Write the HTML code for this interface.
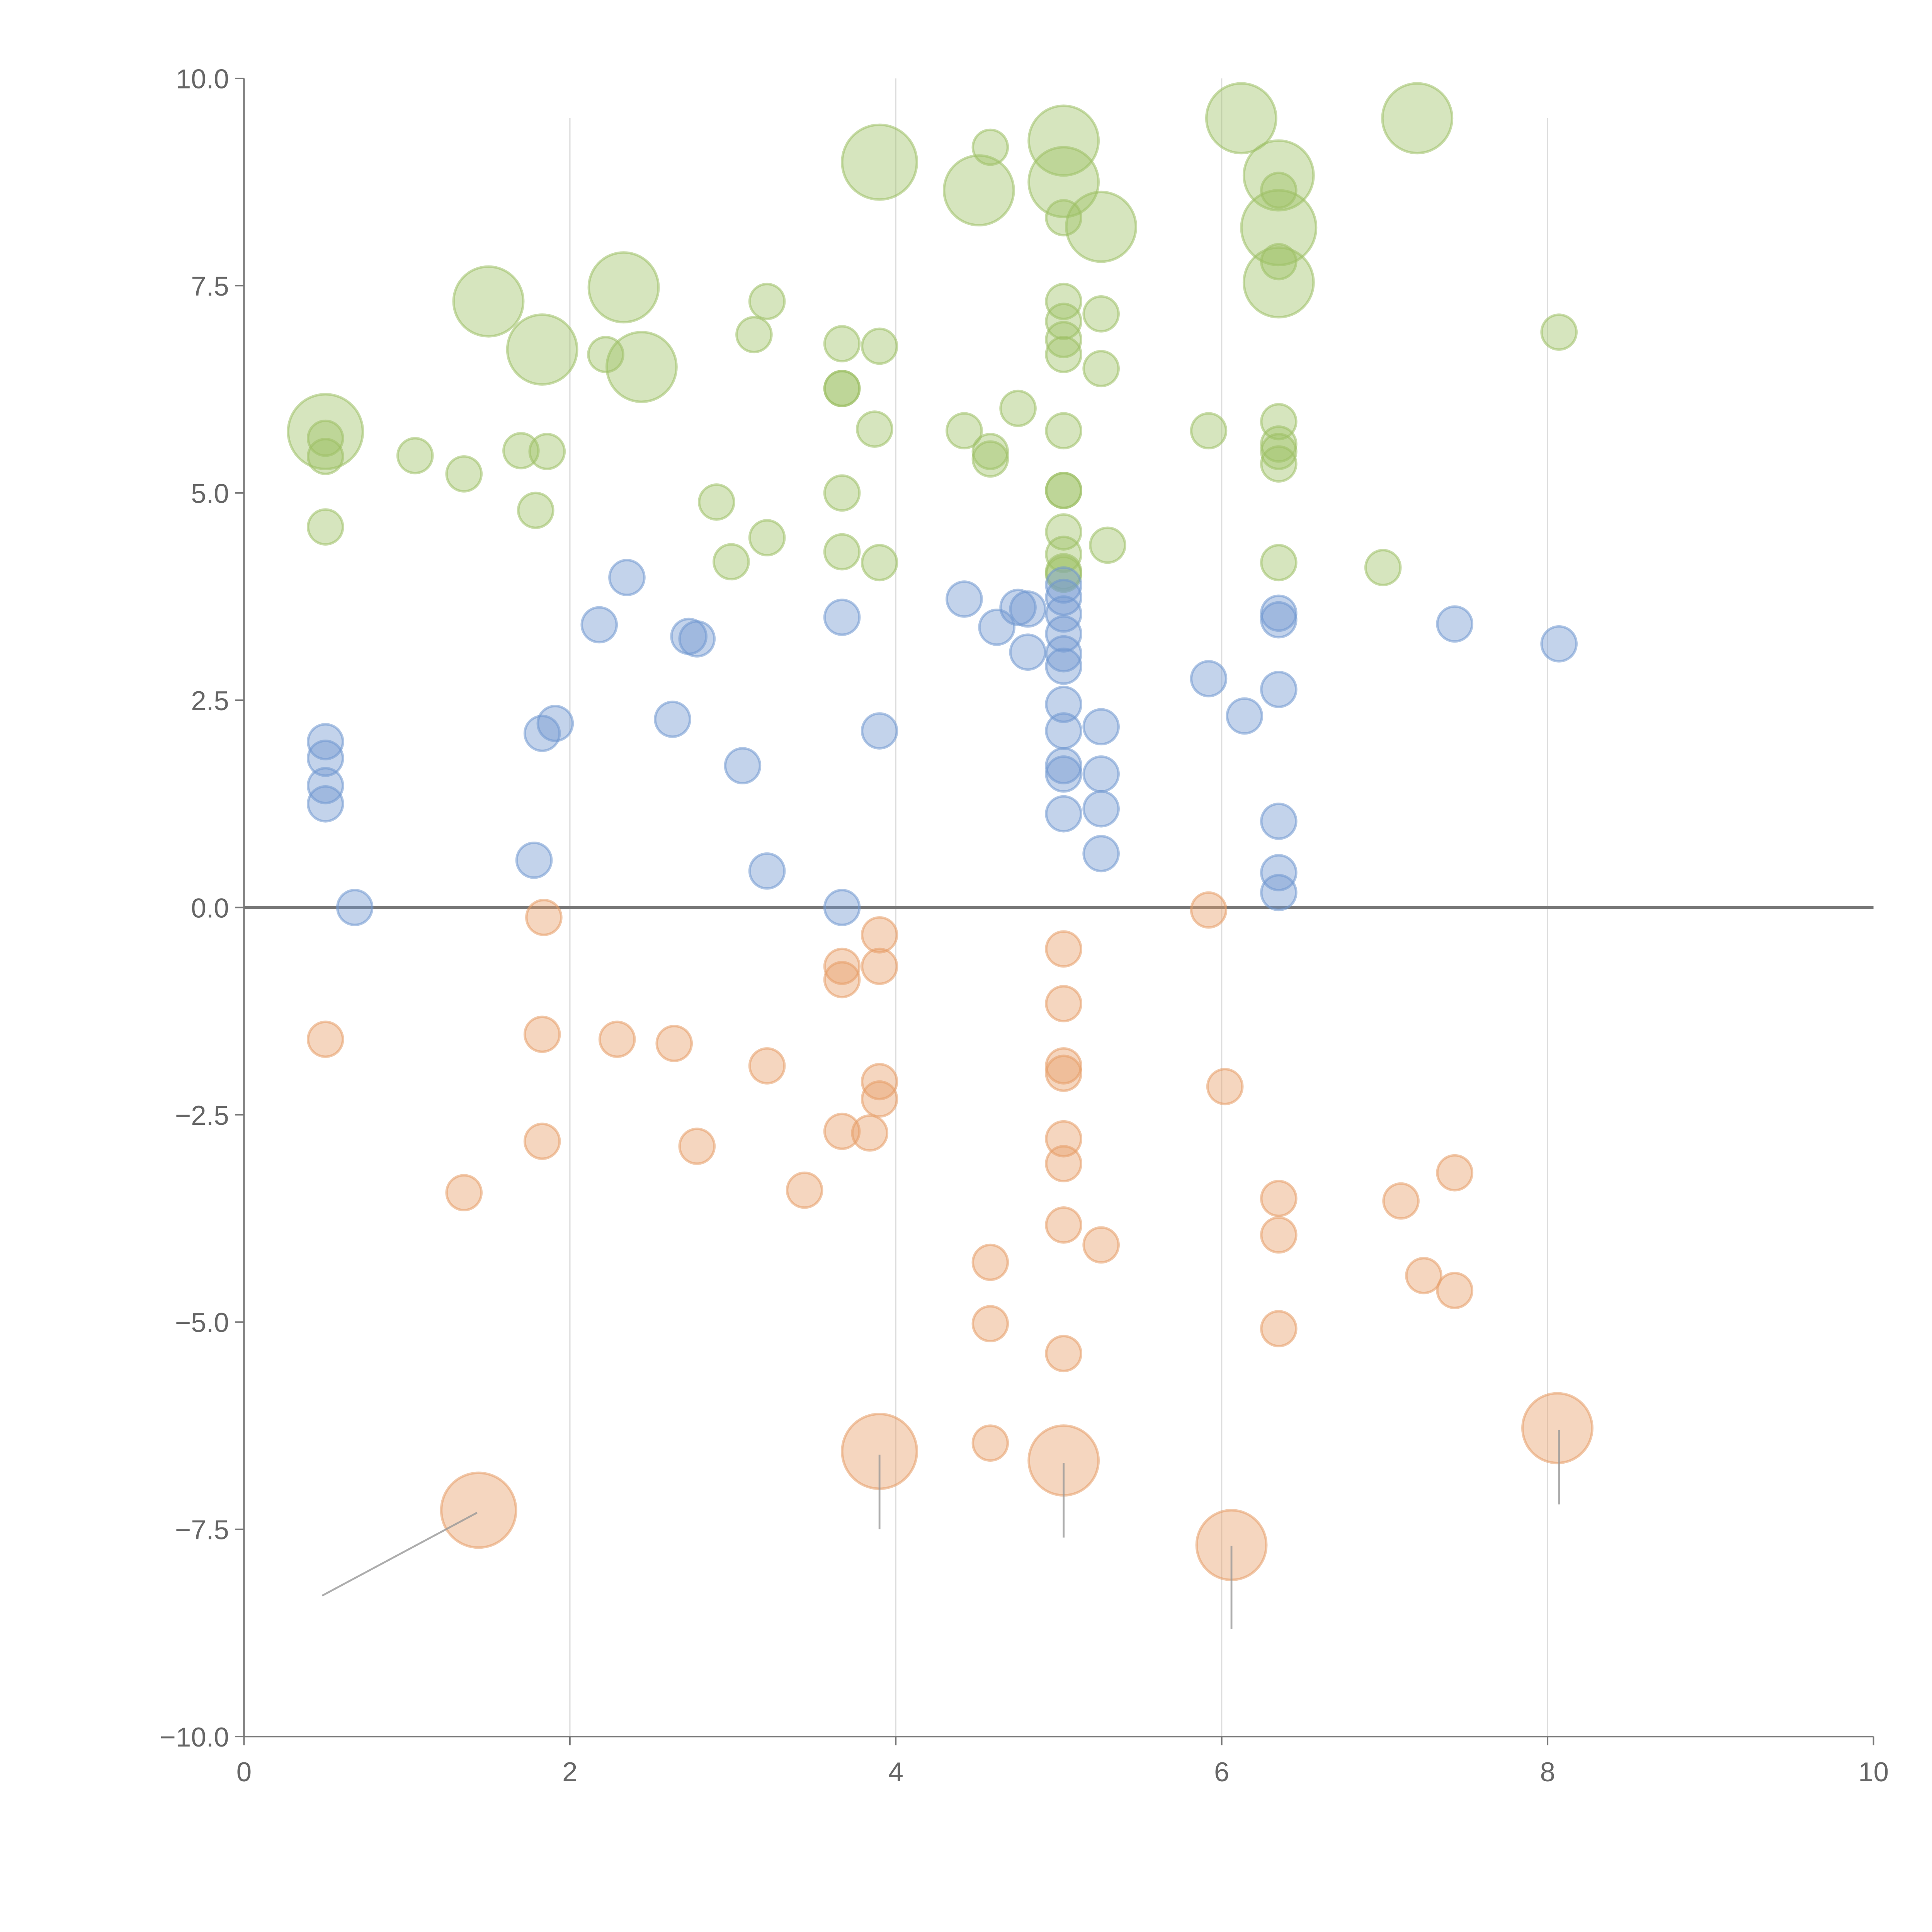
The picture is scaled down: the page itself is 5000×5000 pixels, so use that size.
<!DOCTYPE html>
<html><head><meta charset="utf-8"><style>html,body{margin:0;padding:0;background:#fff}svg{display:block}</style></head>
<body>
<svg id="chart" width="5000" height="5000" viewBox="0 0 1552 1552" xmlns="http://www.w3.org/2000/svg" font-family="Liberation Sans, sans-serif">
<g id="grid"></g>
<g id="axes"></g>
<g id="marks"></g>
</svg>
<script>
const xTicks=[0,2,4,6,8,10];
const yTicks=[-10,-7.5,-5,-2.5,0,2.5,5,7.5,10];
const yTickLabels=["\u221210.0","\u22127.5","\u22125.0","\u22122.5","0.0","2.5","5.0","7.5","10.0"];
const greenX=[0.50,0.50,0.50,0.50,1.05,1.35,1.70,1.86,1.79,1.50,1.83,2.33,2.44,2.22,2.90,2.99,3.21,3.13,3.21,3.67,3.90,3.67,3.67,3.87,3.67,3.67,3.90,3.90,4.51,4.58,5.03,5.03,5.26,5.03,5.03,5.03,5.03,5.03,5.26,5.26,4.75,4.42,4.58,4.58,5.03,5.03,5.03,5.03,5.03,5.03,5.03,5.30,5.92,6.12,6.35,6.35,6.35,6.35,6.35,6.35,6.35,6.35,6.35,6.35,6.99,7.20,8.07];
const greenY=[5.74,5.66,5.44,4.59,5.45,5.23,5.51,5.50,4.79,7.31,6.73,7.48,6.52,6.67,4.89,4.17,4.46,6.91,7.31,6.80,6.77,6.26,6.26,5.77,5.00,4.29,4.16,8.99,8.65,9.17,9.25,8.75,8.21,8.32,7.31,7.07,6.85,6.67,7.16,6.50,6.02,5.75,5.50,5.41,5.75,5.03,5.03,4.53,4.26,4.05,4.02,4.37,5.75,9.52,8.83,8.65,8.20,7.79,7.54,5.86,5.59,5.50,5.35,4.16,4.10,9.52,6.94];
const greenS=[4.6,1,1,1,1,1,1,1,1,4,4,4,4,1,1,1,1,1,1,1,1,1,1,1,1,1,1,4.6,4,1,4,4,4,1,1,1,1,1,1,1,1,1,1,1,1,1,1,1,1,1,1,1,1,4,4,1,4.6,1,4,1,1,1,1,1,1,4,1];
const blueX=[0.68,0.50,0.50,0.50,0.50,1.78,1.83,1.91,2.18,2.35,2.63,2.73,2.78,3.06,3.21,3.67,3.67,3.90,4.42,4.62,4.75,4.81,4.81,5.03,5.03,5.03,5.03,5.03,5.03,5.03,5.03,5.03,5.03,5.03,5.26,5.26,5.26,5.26,5.92,6.14,6.35,6.35,6.35,6.35,6.35,6.35,7.43,8.07];
const blueY=[0,2.00,1.80,1.47,1.25,0.57,2.10,2.22,3.41,3.98,2.27,3.27,3.24,1.71,0.44,3.50,0,2.13,3.72,3.38,3.62,3.60,3.08,3.89,3.74,3.54,3.30,3.06,2.91,2.45,2.13,1.71,1.61,1.13,2.18,1.61,1.19,0.65,2.76,2.31,3.55,3.47,2.63,1.04,0.42,0.18,3.42,3.18];
const blueS=[1,1,1,1,1,1,1,1,1,1,1,1,1,1,1,1,1,1,1,1,1,1,1,1,1,1,1,1,1,1,1,1,1,1,1,1,1,1,1,1,1,1,1,1,1,1,1,1];
const orangeX=[0.50,1.35,1.83,1.83,1.84,2.29,2.64,2.78,3.21,3.44,3.67,3.67,3.67,3.84,3.90,3.90,3.90,3.90,4.58,4.58,4.58,5.03,5.03,5.03,5.03,5.03,5.03,5.03,5.03,5.26,5.92,6.02,6.35,6.35,6.35,7.10,7.24,7.43,7.43,1.44,3.90,5.03,6.06,8.06];
const orangeY=[-1.59,-3.44,-1.53,-2.82,-0.12,-1.59,-1.64,-2.88,-1.91,-3.41,-0.71,-0.87,-2.70,-2.72,-0.33,-0.71,-2.10,-2.31,-4.28,-5.02,-6.46,-0.50,-1.16,-1.91,-2.00,-2.79,-3.09,-3.83,-5.38,-4.07,-0.03,-2.16,-3.51,-3.95,-5.08,-3.54,-4.44,-3.20,-4.62,-7.27,-6.56,-6.67,-7.69,-6.28];
const orangeS=[1,1,1,1,1,1,1,1,1,1,1,1,1,1,1,1,1,1,1,1,1,1,1,1,1,1,1,1,1,1,1,1,1,1,1,1,1,1,1,4.6,4.6,4,4,4];
const leaderFrom=[[0.48,-8.3],[3.90,-7.5],[5.03,-7.6],[6.06,-8.7],[8.07,-7.2]];
const leaderTo=[[1.43,-7.3],[3.90,-6.6],[5.03,-6.7],[6.06,-7.7],[8.07,-6.3]];

const NS="http://www.w3.org/2000/svg";
const X0=196,X1=1505,Y0=1395,Y1=63;
const sx=v=>X0+(v-0)/(10-0)*(X1-X0);
const sy=v=>Y0-(v+10)/20*(Y0-Y1);
const rr=s=>14*Math.sqrt(s);
function mk(tag,attrs,parent){const e=document.createElementNS(NS,tag);for(const k in attrs)e.setAttribute(k,attrs[k]);parent.appendChild(e);return e;}
const grid=document.getElementById('grid'),axes=document.getElementById('axes'),marks=document.getElementById('marks');
xTicks.forEach(t=>{
  if(t>0&&t<10){const l=mk('line',{x1:sx(t),x2:sx(t),y1:(t==4||t==6)?Y1:95,y2:Y0,stroke:'#ddd','stroke-width':1},grid);
  
  }
  const tk=mk('line',{x1:sx(t),x2:sx(t),y1:Y0,y2:Y0+7,stroke:'#777','stroke-width':1.2},axes);
  
  
  const tx=mk('text',{x:sx(t),y:Y0+36,'text-anchor':'middle','font-size':22,fill:'#666'},axes);tx.textContent=t;
  
  
});
yTicks.forEach((t,i)=>{
  const tk=mk('line',{x1:X0-7,x2:X0,y1:sy(t),y2:sy(t),stroke:'#777','stroke-width':1.2},axes);
  
  
  const tx=mk('text',{x:X0-12,y:sy(t)+8,'text-anchor':'end','font-size':22,fill:'#666'},axes);tx.textContent=yTickLabels[i];
  
  
});
const ya=mk('line',{x1:X0,x2:X0,y1:Y1,y2:Y0,stroke:'#777','stroke-width':1.3},axes);


const xa=mk('line',{x1:X0,x2:X1,y1:Y0,y2:Y0,stroke:'#777','stroke-width':1.3},axes);


const zl=mk('line',{x1:X0,x2:X1,y1:sy(0),y2:sy(0),stroke:'#777','stroke-width':2.5},axes);


function series(xs,ys,ss,fill,stroke,name){
  xs.forEach((x,i)=>{
    const c=mk('circle',{cx:sx(x),cy:sy(ys[i]),r:rr(ss[i]),fill:fill,'fill-opacity':0.42,stroke:stroke,'stroke-opacity':0.55,'stroke-width':2},marks);
    
    
  });
}
series(greenX,greenY,greenS,'#9dc065','#9dc065','green-bubble');
series(blueX,blueY,blueS,'#6f97cf','#6f97cf','blue-bubble');
series(orangeX,orangeY,orangeS,'#e69d66','#e69d66','orange-bubble');
leaderFrom.forEach((p,i)=>{
  const l=mk('line',{x1:sx(p[0]),y1:sy(p[1]),x2:sx(leaderTo[i][0]),y2:sy(leaderTo[i][1]),stroke:'#999','stroke-width':1.5,'stroke-opacity':0.8},marks);
  
  
});
</script>
</body></html>
